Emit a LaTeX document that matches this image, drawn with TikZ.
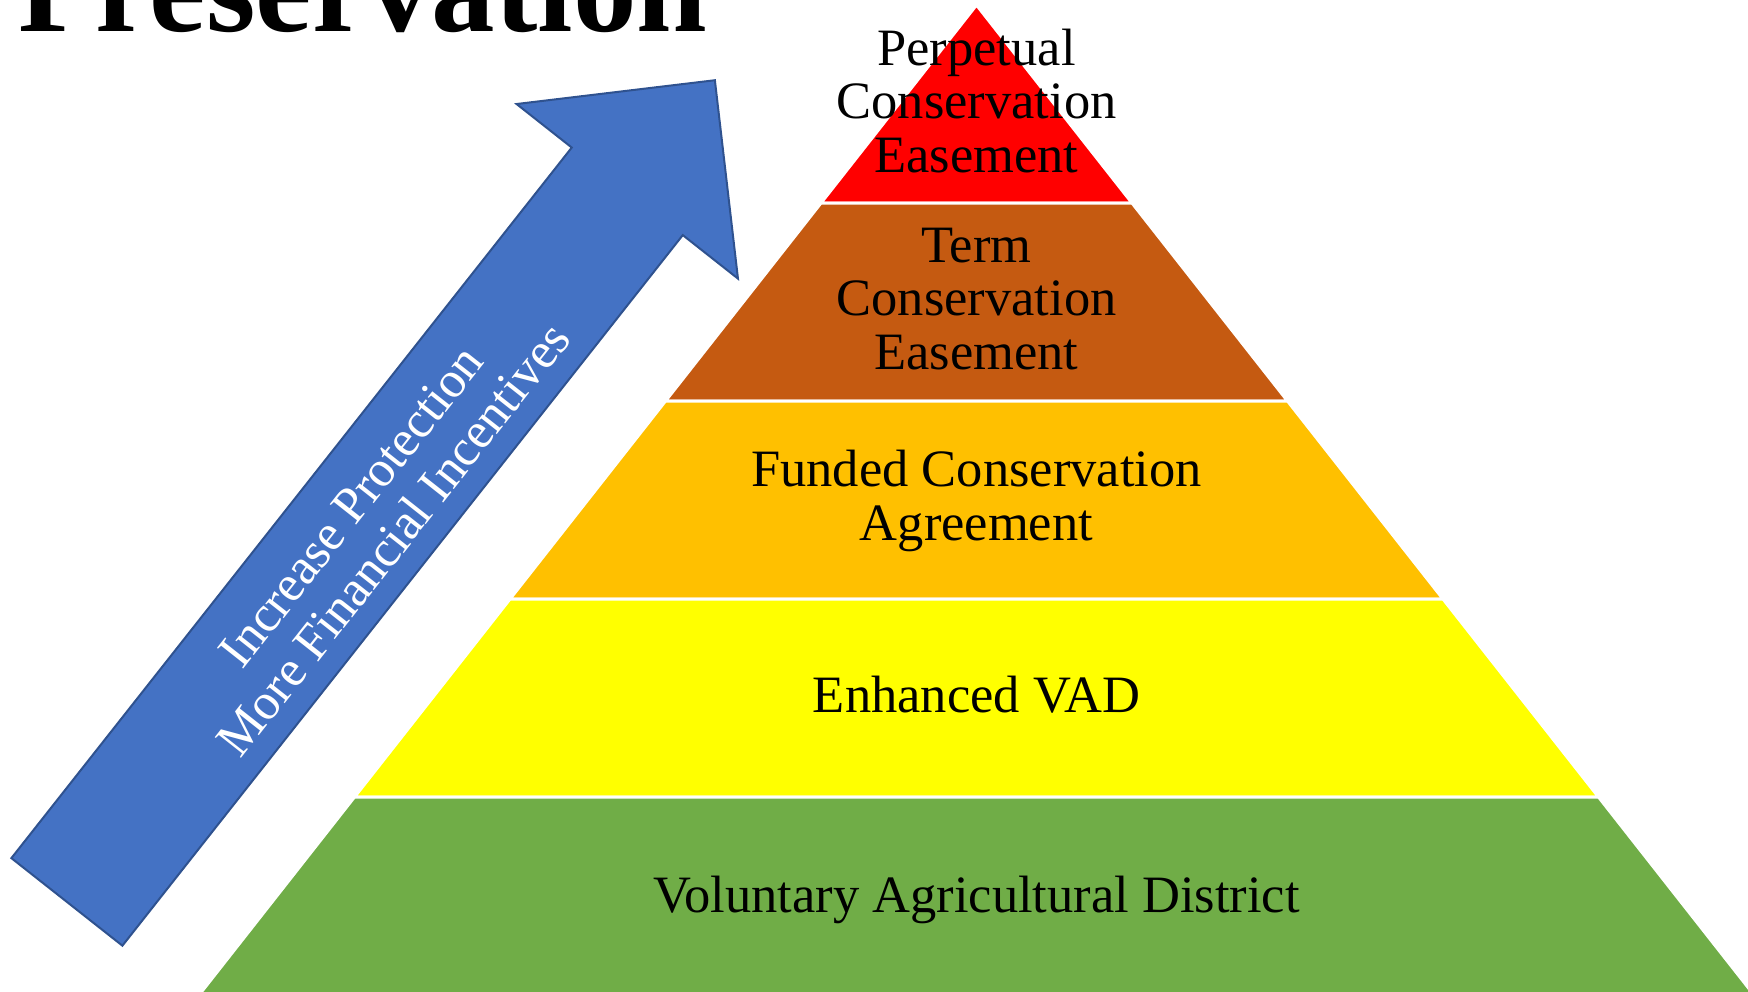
\documentclass[tikz,border=0pt]{standalone}
\usepackage{fontspec}
\setmainfont{Liberation Serif}
\usepackage{tikz}
\usetikzlibrary{calc}
\definecolor{tierred}{HTML}{FF0000}
\definecolor{tierbrown}{HTML}{C55A11}
\definecolor{tierorange}{HTML}{FFC000}
\definecolor{tieryellow}{HTML}{FFFF00}
\definecolor{tiergreen}{HTML}{70AD47}
\definecolor{tierblue}{HTML}{4472C4}
\definecolor{tierblueline}{HTML}{2F528F}

\begin{document}
\begin{tikzpicture}[x=1pt,y=-1pt,
  tier/.style={draw=white,line width=3pt,line join=miter},
  lbl/.style={font=\fontsize{52.5}{53.5}\selectfont,align=center,inner sep=0pt,anchor=base},
  ar/.style={fill=tierblue,draw=tierblueline,line width=2pt,line join=miter}]
  \useasboundingbox (0,0) rectangle (1748,991);
  \clip (0,0) rectangle (1748,991);
  % title, only its lower part shows
  \node[font=\fontsize{127}{130}\selectfont\bfseries,anchor=base west,inner sep=0pt] (title) at (18,31) {Preservation};
  % pyramid: five tiers of equal height
  \coordinate (apex) at (976.5,5);
  \coordinate (bl) at (199,995);
  \coordinate (br) at (1754,995);
  \path[tier,fill=tierred] (apex) -- ($(apex)!.2!(br)$) -- ($(apex)!.2!(bl)$) -- cycle;
  \path[tier,fill=tierbrown] ($(apex)!.2!(bl)$) -- ($(apex)!.2!(br)$) -- ($(apex)!.4!(br)$) -- ($(apex)!.4!(bl)$) -- cycle;
  \path[tier,fill=tierorange] ($(apex)!.4!(bl)$) -- ($(apex)!.4!(br)$) -- ($(apex)!.6!(br)$) -- ($(apex)!.6!(bl)$) -- cycle;
  \path[tier,fill=tieryellow] ($(apex)!.6!(bl)$) -- ($(apex)!.6!(br)$) -- ($(apex)!.8!(br)$) -- ($(apex)!.8!(bl)$) -- cycle;
  \path[tier,fill=tiergreen] ($(apex)!.8!(bl)$) -- ($(apex)!.8!(br)$) -- (br) -- (bl) -- cycle;
  % labels sit on the baseline of their last line
  \node[lbl] (perp) at (976.5,172) {Perpetual\\Conservation\\Easement};
  \node[lbl] (term) at (976.5,369) {Term\\Conservation\\Easement};
  \node[lbl] (funded) at (976.5,540) {Funded Conservation\\Agreement};
  \node[lbl] (evad) at (976.5,712) {Enhanced VAD};
  \node[lbl] (vad) at (976.5,912) {Voluntary Agricultural District};
  % the big arrow, drawn along its own axis
  \begin{scope}[shift={(66.9,901.9)},rotate=51.74]
    \path[ar] (0,-70.7) -- (905,-70.7) -- (905,-141) -- (1046.5,0) -- (905,141) -- (905,70.7) -- (0,70.7) -- cycle;
    \node[transform shape,text=white,align=center,inner sep=0pt,font=\fontsize{51}{54}\selectfont] (incr) at (487,5) {Increase Protection\\More Financial Incentives};
  \end{scope}
\end{tikzpicture}
\end{document}
